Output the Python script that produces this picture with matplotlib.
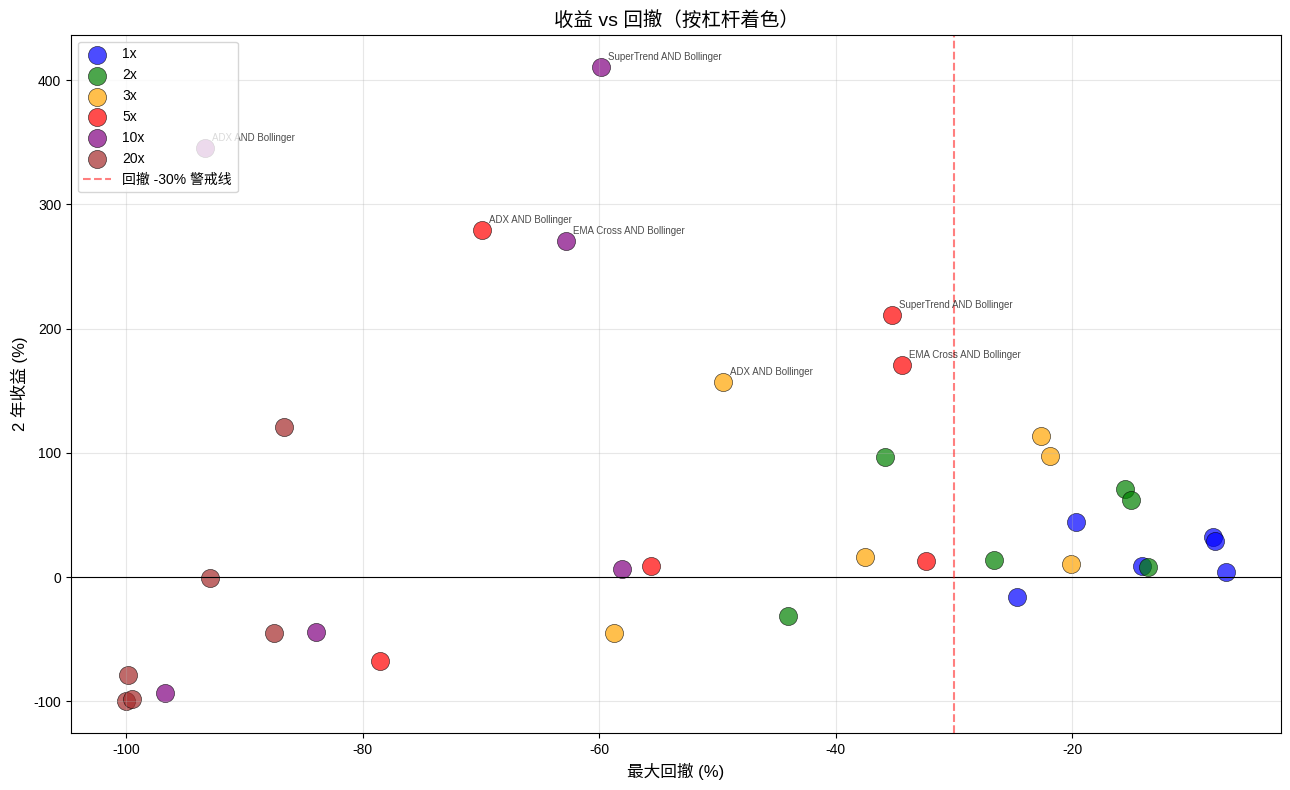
import matplotlib
matplotlib.use('Agg')
import matplotlib.pyplot as plt
import numpy as np

plt.rcParams['font.family'] = ['Liberation Sans', 'Noto Sans CJK SC', 'DejaVu Sans']
plt.rcParams['axes.unicode_minus'] = False

# leverage groups and colours
leverages = ['1x', '2x', '3x', '5x', '10x', '20x']
colors = ['blue', 'green', 'orange', 'red', 'purple', 'brown']

# max drawdown (%) per leverage
dd_1x = [-19.7, -24.7, -14.1, -8.1, -7.9, -7.0]
dd_2x = [-15.5, -15.0, -26.6, -13.6, -35.8, -44.0]
dd_3x = [-22.6, -21.9, -20.1, -37.5, -49.5, -58.7]
dd_5x = [-35.2, -34.4, -32.4, -55.6, -69.9, -78.5]
dd_10x = [-59.8, -62.8, -58.1, -83.9, -96.7, -93.3]
dd_20x = [-86.6, -92.9, -87.5, -99.8, -100.0, -99.5]

# 2 year return (%) per leverage
ret_1x = [44.3, -16.0, 8.9, 32.0, 29.0, 4.0]
ret_2x = [70.9, 62.0, 13.7, 8.0, 96.6, -31.4]
ret_3x = [113.5, 97.4, 10.5, 16.0, 157.0, -45.0]
ret_5x = [211.0, 170.7, 12.9, 8.9, 279.4, -67.6]
ret_10x = [411.0, 270.5, 6.4, -44.3, -93.4, 345.4]
ret_20x = [120.8, -0.8, -45.0, -79.0, -100.0, -98.0]

# strategy names of labelled points (others left blank)
name_1x = [''] * 6
name_2x = [''] * 6
name_3x = ['', '', '', '', 'ADX AND Bollinger', '']
name_5x = ['SuperTrend AND Bollinger', 'EMA Cross AND Bollinger', '', '', 'ADX AND Bollinger', '']
name_10x = ['SuperTrend AND Bollinger', 'EMA Cross AND Bollinger', '', '', '', 'ADX AND Bollinger']
name_20x = [''] * 6

drawdowns = [dd_1x, dd_2x, dd_3x, dd_5x, dd_10x, dd_20x]
returns = [ret_1x, ret_2x, ret_3x, ret_5x, ret_10x, ret_20x]
names = [name_1x, name_2x, name_3x, name_5x, name_10x, name_20x]

fig, ax = plt.subplots(figsize=(12.9, 7.9), dpi=100)

for lev, c, dd, ret, nm in zip(leverages, colors, drawdowns, returns, names):
    ax.scatter(dd, ret, s=170, c=c, alpha=0.7, edgecolors='black', linewidths=0.5, label=lev)
    for x, y, n in zip(dd, ret, nm):
        if n:
            ax.annotate(n, (x, y), xytext=(5, 5), textcoords='offset points', fontsize=7, alpha=0.7)

ax.axhline(0, color='black', linewidth=0.8)
ax.axvline(-30, color='red', linestyle='--', alpha=0.5, label='回撤 -30% 警戒线')

ax.set_xlabel('最大回撤 (%)', fontsize=12)
ax.set_ylabel('2 年收益 (%)', fontsize=12)
ax.set_title('收益 vs 回撤（按杠杆着色）', fontsize=14)
ax.grid(True, alpha=0.3)
ax.legend(loc='upper left', fontsize=10)

fig.subplots_adjust(left=0.055, right=0.993, top=0.956, bottom=0.072)
plt.savefig('out.png', dpi=100)
